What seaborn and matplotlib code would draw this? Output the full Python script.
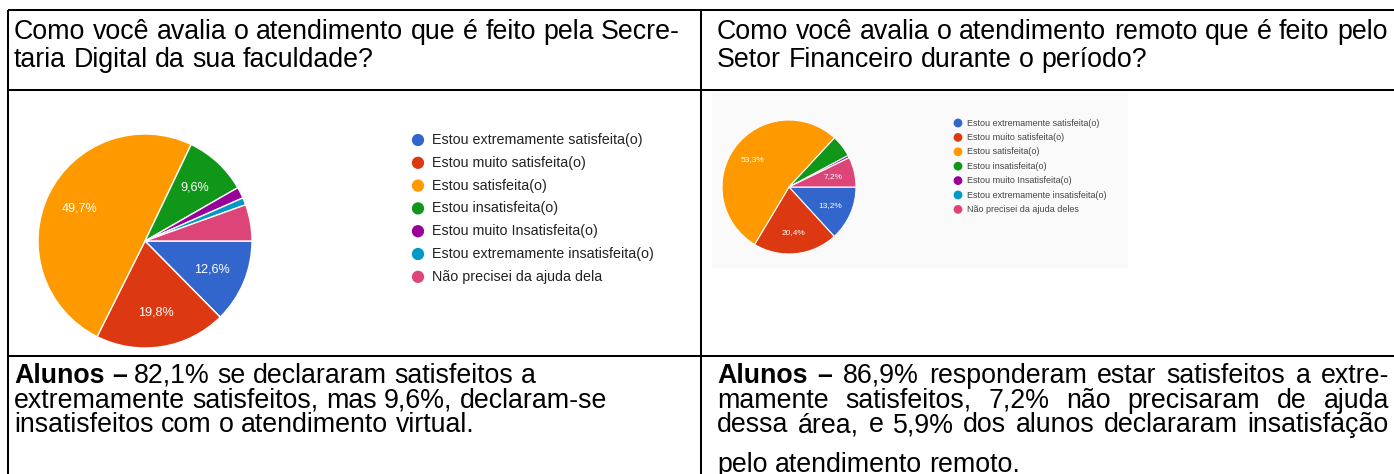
import matplotlib
matplotlib.use("Agg")
import matplotlib.pyplot as plt
import seaborn as sns

# ---- data -------------------------------------------------------------
categories_secretaria = [
    "Estou extremamente satisfeita(o)",
    "Estou muito satisfeita(o)",
    "Estou satisfeita(o)",
    "Estou insatisfeita(o)",
    "Estou muito Insatisfeita(o)",
    "Estou extremamente insatisfeita(o)",
    "Não precisei da ajuda dela",
]
values_secretaria = [12.6, 19.8, 49.7, 9.6, 1.7, 1.1, 5.5]

categories_financeiro = [
    "Estou extremamente satisfeita(o)",
    "Estou muito satisfeita(o)",
    "Estou satisfeita(o)",
    "Estou insatisfeita(o)",
    "Estou muito Insatisfeita(o)",
    "Estou extremamente insatisfeita(o)",
    "Não precisei da ajuda deles",
]
values_financeiro = [13.2, 20.4, 53.3, 5.3, 0.6, 0.0, 7.2]

palette = sns.color_palette(
    ["#3366cc", "#dc3912", "#ff9900", "#109618", "#990099", "#0099c6", "#dd4477"]
)

header_left = ["Como você avalia o atendimento que é feito pela Secre-",
               "taria Digital da sua faculdade?"]
header_right = ["Como você avalia o atendimento remoto que é feito pelo",
                "Setor Financeiro durante o período?"]
summary_left = [
    [("Alunos –", "bold"), ("82,1% se declararam satisfeitos a", "normal")],
    [("extremamente satisfeitos, mas 9,6%, declaram-se", "normal")],
    [("insatisfeitos com o atendimento virtual.", "normal")],
]
summary_right = [
    [("Alunos –", "bold"), ("86,9% responderam estar satisfeitos a extre-", "normal")],
    [("mamente satisfeitos, 7,2% não precisaram de ajuda", "normal")],
    [("dessa área, e 5,9% dos alunos declararam insatisfação", "normal")],
    [("pelo atendimento remoto.", "normal")],
]

# ---- figure -----------------------------------------------------------
W, H, DPI = 1394, 474, 100
sns.set_theme(style="white")
plt.rcParams["font.family"] = ["Liberation Sans", "DejaVu Sans"]

fig = plt.figure(figsize=(W / DPI, H / DPI), dpi=DPI)
fig.patch.set_facecolor("white")

# overlay in pixel units (origin top-left) for the table frame and text
ov = fig.add_axes([0, 0, 1, 1])
ov.set_xlim(0, W)
ov.set_ylim(H, 0)
ov.axis("off")

lw = 1.45
for y in (10, 90, 356):
    ov.plot([8, W], [y, y], color="black", lw=lw, solid_capstyle="butt")
for x in (8, 701):
    ov.plot([x, x], [10, H], color="black", lw=lw, solid_capstyle="butt")

# faint backdrop of the second chart
ov.add_patch(plt.Rectangle((712, 92), 416, 176, facecolor="#fafafa",
                           edgecolor="none", zorder=0))

renderer = fig.canvas.get_renderer()


def text_line(x0, y, parts, size, x1=None, color="black"):
    words = []
    for s, weight in parts:
        for w in s.split():
            words.append((w, weight))
    objs = [ov.text(0, y, w, fontsize=size, fontweight=wt, ha="left",
                    va="baseline", color=color) for w, wt in words]
    widths = [o.get_window_extent(renderer).width for o in objs]
    space = 0.278 * size * DPI / 72
    if x1 is not None and len(objs) > 1:
        gap = (x1 - x0 - sum(widths)) / (len(objs) - 1)
    else:
        gap = space
    x = x0
    for o, w in zip(objs, widths):
        o.set_x(x)
        x += w + gap


FS = 19.3
for i, line in enumerate(header_left):
    text_line(14, 39 + 28 * i, [(line, "normal")], FS)
for i, line in enumerate(header_right):
    text_line(717, 39 + 28 * i, [(line, "normal")], FS)

for i, parts in enumerate(summary_left):
    text_line(14, 383 + 24.5 * i, parts, FS)
right_base = [383, 407.5, 432, 472]
for i, parts in enumerate(summary_right):
    last = i == len(summary_right) - 1
    text_line(717, right_base[i], parts, FS, x1=None if last else 1389)


# ---- pies -------------------------------------------------------------
def pct_label(p):
    return f"{p:.1f}%".replace(".", ",") if p >= 7 else ""


def draw_pie(values, cx, cy, r, label_size, edge_lw):
    ax = fig.add_axes([(cx - r) / W, 1 - (cy + r) / H, 2 * r / W, 2 * r / H])
    ax.pie(values, colors=palette, startangle=0, counterclock=False,
           autopct=pct_label, pctdistance=0.68,
           wedgeprops=dict(edgecolor="white", linewidth=edge_lw),
           textprops=dict(color="white", fontsize=label_size))
    ax.set_xlim(-1.0, 1.0)
    ax.set_ylim(-1.0, 1.0)
    ax.set_aspect("equal")
    ax.axis("off")
    return ax


draw_pie(values_secretaria, 145, 241, 107, 9.1, 1.0)
draw_pie(values_financeiro, 789, 187, 67, 6.0, 0.8)


# ---- legends ----------------------------------------------------------
def draw_legend(cats, x_dot, x_txt, y0, dy, dot_size, txt_size, txt_color):
    for i, (cat, col) in enumerate(zip(cats, palette)):
        y = y0 + dy * i
        ov.scatter([x_dot], [y], s=dot_size, color=col, edgecolor="none")
        ov.text(x_txt, y, cat, fontsize=txt_size, color=txt_color,
                ha="left", va="center")


draw_legend(categories_secretaria, 418, 432, 140, 22.8, 78, 10.3, "#222222")
draw_legend(categories_financeiro, 958, 967, 123, 14.4, 40, 6.5, "#444444")

fig.savefig("out.png", dpi=DPI, facecolor="white")
